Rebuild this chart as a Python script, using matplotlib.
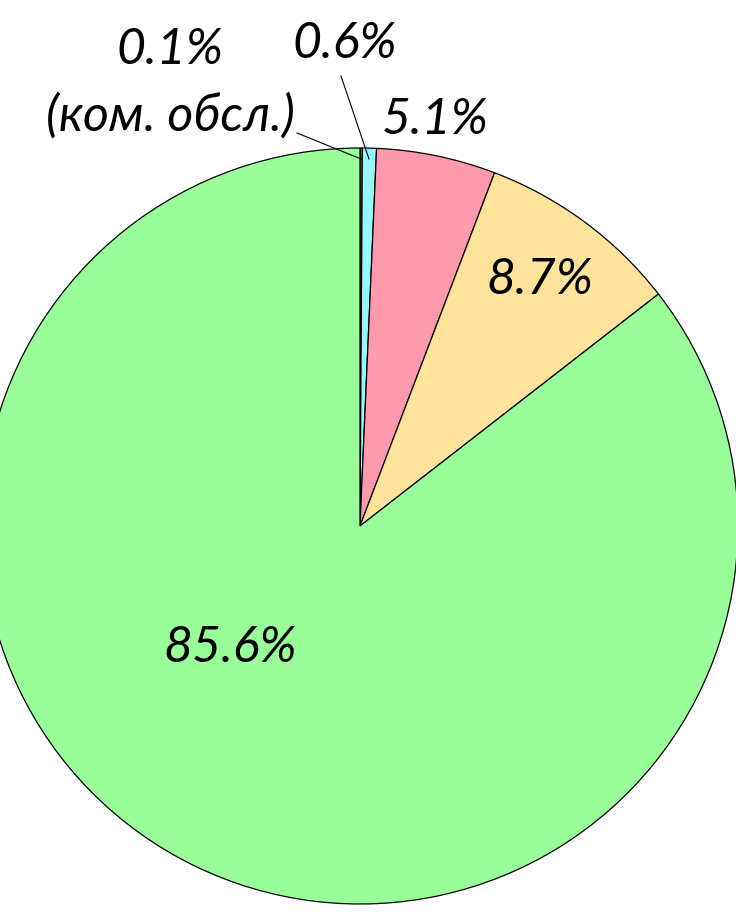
import matplotlib
matplotlib.use('Agg')
import matplotlib.pyplot as plt

# shares, clockwise from the top
shares = [0.1, 0.6, 5.1, 8.7, 85.6]
colors = ['#9a9a9a', '#99f6ff', '#ff99ae', '#ffe29c', '#9aff9a']
labels = ['0.1%', '0.6%', '5.1%', '8.7%', '85.6%']
note = '(ком. обсл.)'

W, H = 736, 915

fig = plt.figure(figsize=(W/100, H/100), dpi=100)
ax = fig.add_axes([0, 0, 1, 1])

cx, cy, r = 360, H-526, 378
ax.pie(shares, colors=colors, startangle=90, counterclock=False,
       center=(cx, cy), radius=r, normalize=True,
       wedgeprops={'edgecolor': 'black', 'linewidth': 0.9})
ax.set_xlim(0, W)
ax.set_ylim(0, H)
ax.set_aspect('equal')
ax.axis('off')

fnt = dict(family=['Lato', 'DejaVu Sans'], style='italic', weight='normal',
           fontsize=36, ha='center', va='center', color='black')

# small slices: labels above with leader lines
ax.text(170, H-50, labels[0], **fnt)
ax.text(170, H-116, note, **fnt)
ax.plot([297, 361], [H-133, H-159], color='black', lw=0.8)
ax.text(345, H-44, labels[1], **fnt)
ax.plot([341, 369], [H-76, H-159], color='black', lw=0.8)
ax.text(435, H-120, labels[2], **fnt)
ax.text(540, H-280, labels[3], **fnt)
ax.text(230, H-648, labels[4], **fnt)

fig.savefig('out.png', dpi=100)
